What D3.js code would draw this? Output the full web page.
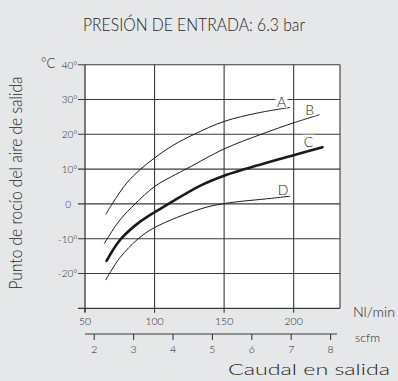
<!DOCTYPE html>
<html>
<head>
<meta charset="utf-8">
<script src="https://cdn.jsdelivr.net/npm/d3@7"></script>
<style>
  html, body { margin: 0; padding: 0; background: #e6e7e9; }
  svg { display: block; }
  text { font-family: Lato, "Open Sans", "Noto Sans", sans-serif; font-weight: 300; fill: #1e1e1e; }
</style>
</head>
<body>
<svg id="chart" width="398" height="381"></svg>
<script>
// Dew point curves: flow (Nl/min) vs outlet dew point (°C)
const flowA = [65, 70, 80, 90, 100, 114, 128.5, 150, 175, 197];
const dewA  = [-3, 0.3, 6, 10, 13.2, 17, 20, 23.7, 26.2, 27.7];

const flowB = [64, 70, 76, 86, 100, 112, 124, 150, 178, 200, 218.3];
const dewB  = [-11.3, -7.5, -4.2, 0, 5, 7.8, 10.3, 15.8, 20.2, 23.3, 25.6];

const flowC = [65.5, 70, 76, 88, 100, 110, 132.6, 150, 165, 200, 220.7];
const dewC  = [-16.4, -13.3, -10, -5.6, -2.4, 0, 5.2, 8.1, 10, 14, 16.3];

const flowD = [65, 75, 88.3, 100, 132.6, 150, 184, 197];
const dewD  = [-21.8, -15.5, -10, -6.8, -1.5, 0.1, 1.6, 2.2];

const curveNames = ["A", "B", "C", "D"];

// Axis ticks
const flowTicks = [50, 100, 150, 200];
const scfmTicks = [2, 3, 4, 5, 6, 7, 8];
const dewTicks = [-20, -10, 0, 10, 20, 30, 40];
const dewTickLabels = ["-20°", "-10°", "0", "10°", "20°", "30°", "40°"];

const NL_PER_SCFM = 28.3168;

const svg = d3.select("#chart");

const x = d3.scaleLinear().domain([50, 233.3]).range([85, 340]);
const y = d3.scaleLinear().domain([-30, 40]).range([308.3, 64.7]);

const gridColor = "#3a3a3a";

// Plot background
svg.append("rect")
  .attr("x", x(50)).attr("y", y(40))
  .attr("width", x(233.3) - x(50)).attr("height", y(-30) - y(40))
  .attr("fill", "#fff");

// Horizontal grid lines with left ticks
svg.append("g").selectAll("line").data(dewTicks).join("line")
  .attr("x1", x(50) - 7).attr("x2", x(233.3))
  .attr("y1", d => y(d)).attr("y2", d => y(d))
  .attr("stroke", gridColor).attr("stroke-width", 1.1);

// Vertical grid lines
svg.append("g").selectAll("line").data([100, 150, 200, 233.3]).join("line")
  .attr("x1", d => x(d)).attr("x2", d => x(d))
  .attr("y1", y(40)).attr("y2", y(-30))
  .attr("stroke", gridColor).attr("stroke-width", 1.1);

// Left axis line
svg.append("line")
  .attr("x1", x(50)).attr("x2", x(50))
  .attr("y1", y(40)).attr("y2", y(-30) + 4)
  .attr("stroke", gridColor).attr("stroke-width", 1.3);

// Bottom axis (Nl/min)
svg.append("line")
  .attr("x1", x(50) - 7).attr("x2", x(233.3))
  .attr("y1", y(-30)).attr("y2", y(-30))
  .attr("stroke", gridColor).attr("stroke-width", 1.3);

svg.append("g").selectAll("line").data(flowTicks).join("line")
  .attr("x1", d => x(d)).attr("x2", d => x(d))
  .attr("y1", y(-30)).attr("y2", y(-30) + 4.5)
  .attr("stroke", gridColor).attr("stroke-width", 1.1);

svg.append("g").selectAll("text").data(flowTicks).join("text")
  .attr("x", d => x(d)).attr("y", y(-30) + 17)
  .attr("text-anchor", "middle")
  .attr("font-size", 10.5)
  .attr("fill", "#3c3c3c")
  .text(d => d);

// Secondary axis (scfm)
const scfmY = 334;
svg.append("line")
  .attr("x1", x(50)).attr("x2", 337)
  .attr("y1", scfmY).attr("y2", scfmY)
  .attr("stroke", gridColor).attr("stroke-width", 1.1);

svg.append("g").selectAll("line").data(scfmTicks).join("line")
  .attr("x1", d => x(d * NL_PER_SCFM)).attr("x2", d => x(d * NL_PER_SCFM))
  .attr("y1", scfmY).attr("y2", scfmY + 6)
  .attr("stroke", gridColor).attr("stroke-width", 1.1);

svg.append("g").selectAll("text").data(scfmTicks).join("text")
  .attr("x", d => x(d * NL_PER_SCFM)).attr("y", scfmY + 18.5)
  .attr("text-anchor", "middle")
  .attr("font-size", 10.5)
  .attr("fill", "#3c3c3c")
  .text(d => d);

// Left tick labels
svg.append("g").selectAll("text").data(dewTicks).join("text")
  .attr("x", d => d === 0 ? 71 : 77.5)
  .attr("y", d => y(d) + 3.8)
  .attr("text-anchor", "end")
  .attr("font-size", 10)
  .attr("fill", "#3c3c3c")
  .text((d, i) => dewTickLabels[i]);

// Curves
const series = [
  { name: "A", flow: flowA, dew: dewA, width: 1.0, dx: -8, dy: -6 },
  { name: "B", flow: flowB, dew: dewB, width: 1.0, dx: -9.5, dy: -5 },
  { name: "C", flow: flowC, dew: dewC, width: 2.6, dx: -14, dy: -5.5 },
  { name: "D", flow: flowD, dew: dewD, width: 1.0, dx: -6.5, dy: -6.5 }
];

const line = d3.line()
  .x(d => x(d[0]))
  .y(d => y(d[1]))
  .curve(d3.curveCatmullRom.alpha(0.5));

svg.append("g").selectAll("path").data(series).join("path")
  .attr("d", s => line(s.flow.map((f, i) => [f, s.dew[i]])))
  .attr("fill", "none")
  .attr("stroke", "#1a1a1a")
  .attr("stroke-width", s => s.width)
  .attr("stroke-linecap", "round");

// Curve labels, anchored to each curve's last point
const labels = svg.append("g").selectAll("g").data(series).join("g")
  .attr("transform", s => {
    const n = s.flow.length - 1;
    return `translate(${x(s.flow[n]) + s.dx},${y(s.dew[n]) + s.dy})`;
  });
labels.append("rect")
  .attr("x", -6).attr("y", -7).attr("width", 12).attr("height", 13)
  .attr("fill", "#fff");
labels.append("text")
  .attr("text-anchor", "middle")
  .attr("y", 5)
  .attr("font-size", 14)
  .attr("font-weight", 400)
  .attr("fill", "#222")
  .text((s, i) => curveNames[i]);

// Title
svg.append("text")
  .attr("x", 194).attr("y", 31)
  .attr("text-anchor", "middle")
  .attr("font-size", 17)
  .attr("textLength", 222).attr("lengthAdjust", "spacingAndGlyphs")
  .text("PRESIÓN DE ENTRADA: 6.3 bar");

// Unit labels
svg.append("text")
  .attr("x", 41).attr("y", 67.5)
  .attr("font-size", 13)
  .text("°C");

svg.append("text")
  .attr("x", 353).attr("y", 317)
  .attr("font-size", 14)
  .attr("textLength", 42).attr("lengthAdjust", "spacingAndGlyphs")
  .text("Nl/min");

svg.append("text")
  .attr("x", 355).attr("y", 341.5)
  .attr("font-size", 12.5)
  .attr("textLength", 25).attr("lengthAdjust", "spacingAndGlyphs")
  .text("scfm");

// Axis titles
svg.append("text")
  .attr("transform", "translate(21.5,183) rotate(-90)")
  .attr("text-anchor", "middle")
  .attr("font-size", 17)
  .attr("textLength", 213).attr("lengthAdjust", "spacingAndGlyphs")
  .text("Punto de rocío del aire de salida");

svg.append("text")
  .attr("x", 228).attr("y", 375)
  .attr("font-size", 16.5)
  .attr("textLength", 162).attr("lengthAdjust", "spacingAndGlyphs")
  .text("Caudal en salida");
</script>
</body>
</html>
